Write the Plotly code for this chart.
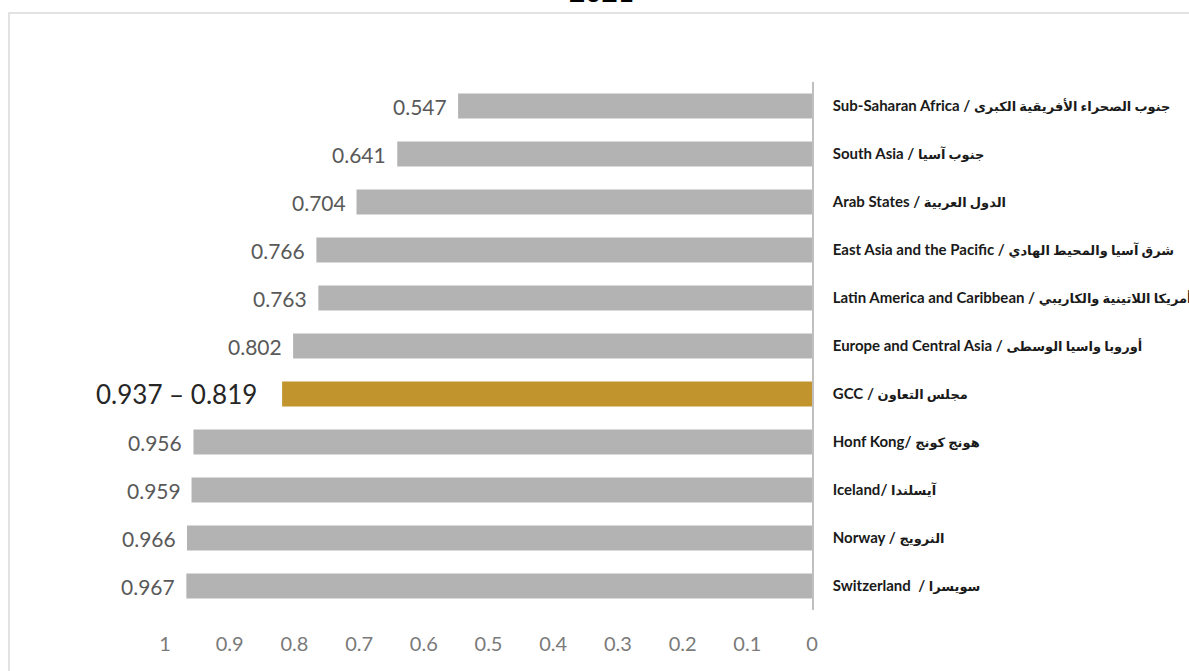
import plotly.graph_objects as go

english_names = [
    "Sub-Saharan Africa / ", "South Asia / ", "Arab States / ",
    "East Asia and the Pacific / ", "Latin America and Caribbean / ",
    "Europe and Central Asia / ", "GCC / ", "Honf Kong/ ", "Iceland/ ",
    "Norway / ", "Switzerland  / ",
]
arabic_names = [
    "جنوب الصحراء الأفريقية الكبرى", "جنوب آسيا", "الدول العربية",
    "شرق آسيا والمحيط الهادي", "أمريكا اللاتينية والكاريبي",
    "أوروبا واسيا الوسطى", "مجلس التعاون", "هونج كونج", "آيسلندا",
    "النرويج", "سويسرا",
]
categories = [e + a for e, a in zip(english_names, arabic_names)]
values = [0.547, 0.641, 0.704, 0.766, 0.763, 0.802, 0.819, 0.956, 0.959, 0.966, 0.967]
value_labels = ["0.547", "0.641", "0.704", "0.766", "0.763", "0.802", "0.937 – 0.819",
                "0.956", "0.959", "0.966", "0.967"]
highlight_index = 6
x_ticks = [1, 0.9, 0.8, 0.7, 0.6, 0.5, 0.4, 0.3, 0.2, 0.1, 0]
x_tick_labels = ["1", "0.9", "0.8", "0.7", "0.6", "0.5", "0.4", "0.3", "0.2", "0.1", "0"]
title_text = "2021"

GRAY = "#B3B3B3"
GOLD = "#C1942D"
colors = [GOLD if i == highlight_index else GRAY for i in range(len(categories))]

tick_text = [e.replace("  ", "\u00a0 ") + "<span style='font-size:13px'>" + a + "</span>"
             for e, a in zip(english_names, arabic_names)]

fig = go.Figure()
fig.add_trace(go.Bar(
    x=values, y=categories, orientation="h",
    marker=dict(color=colors, line=dict(width=0)),
    width=0.52, hoverinfo="skip",
))

annotations = []
for i, (c, v, lab) in enumerate(zip(categories, values, value_labels)):
    big = i == highlight_index
    annotations.append(dict(
        x=v, y=c, xref="x", yref="y", text=lab, showarrow=False,
        xanchor="right", yanchor="middle", xshift=-23 if big else -9,
        font=dict(family="Lato, 'Open Sans', sans-serif",
                  size=26 if big else 21,
                  color="#262626" if big else "#595959"),
    ))

annotations.append(dict(
    x=0.674, y=1.0, xref="paper", yref="paper", yshift=91,
    text="<b>" + title_text + "</b>", showarrow=False,
    xanchor="center", yanchor="middle",
    font=dict(family="Lato, sans-serif", size=28, color="#000000"),
))

fig.update_layout(
    width=1189, height=671,
    margin=dict(l=165, r=377, t=82, b=61, autoexpand=False),
    paper_bgcolor="white", plot_bgcolor="white",
    showlegend=False,
    annotations=annotations,
    shapes=[dict(type="rect", xref="paper", yref="paper",
                 x0=-0.2411, x1=1.7, y0=1.1307, y1=-0.2,
                 line=dict(color="#D9D9D9", width=1.5), fillcolor="rgba(0,0,0,0)",
                 layer="below")],
    xaxis=dict(
        range=[1, 0], tickvals=x_ticks, ticktext=x_tick_labels,
        showgrid=False, zeroline=False, showline=False, automargin=False,
        ticks="", ticklabelstandoff=20,
        tickfont=dict(family="Lato, sans-serif", size=20, color="#7A7A7A"),
        fixedrange=True,
    ),
    yaxis=dict(
        categoryorder="array", categoryarray=categories, autorange="reversed",
        tickvals=categories, ticktext=tick_text,
        side="right", showgrid=False, zeroline=False, automargin=False,
        showline=True, linecolor="#BFBFBF", linewidth=1.5,
        ticks="", ticklabelstandoff=16,
        tickfont=dict(family="Lato, 'DejaVu Sans', sans-serif", size=15, color="#1a1a1a", weight="bold"),
        fixedrange=True,
    ),
)

fig.write_html("out.html", config={"displayModeBar": False},
               post_script="document.body.style.margin='0';document.body.style.overflow='hidden';")
